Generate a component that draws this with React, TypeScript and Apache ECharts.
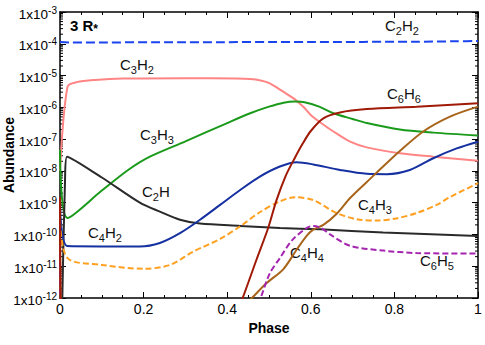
import React, { useEffect, useRef } from 'react';
import * as echarts from 'echarts';

// ---- data: [phase, abundance] ----
const C2H2 = [[0, 1.13e-4], [0.02, 1.1e-4], [0.3, 1.12e-4], [0.6, 1.14e-4], [0.85, 1.16e-4], [0.95, 1.2e-4], [1, 1.22e-4]];
const C3H2 = [[0, 1e-8], [0.018, 4.5e-6], [0.04, 6.2e-6], [0.084, 7.3e-6], [0.15, 8.1e-6], [0.3, 8.3e-6], [0.42, 8.1e-6], [0.455, 7.8e-6], [0.48, 7.0e-6], [0.502, 5.7e-6], [0.534, 3.1e-6], [0.558, 1.95e-6], [0.582, 1.05e-6], [0.6, 5.7e-7], [0.622, 3.4e-7], [0.654, 1.74e-7], [0.694, 8.3e-8], [0.734, 5.5e-8], [0.813, 3.6e-8], [0.893, 2.8e-8], [1, 2.1e-8]];
const C3H3 = [[0, 4.6e-8], [0.018, 3.3e-10], [0.1, 2.4e-9], [0.163, 1.07e-8], [0.215, 2.8e-8], [0.3, 8.5e-8], [0.4, 3.2e-7], [0.455, 6.5e-7], [0.5, 1.05e-6], [0.535, 1.4e-6], [0.562, 1.52e-6], [0.585, 1.45e-6], [0.62, 1.05e-6], [0.654, 6.5e-7], [0.7, 4.3e-7], [0.734, 3.2e-7], [0.813, 2.0e-7], [0.893, 1.6e-7], [1, 1.3e-7]];
const C2H = [[0.004, 1e-13], [0.012, 5e-9], [0.017, 2.8e-8], [0.1, 6.2e-9], [0.191, 1.0e-9], [0.239, 5.2e-10], [0.287, 2.9e-10], [0.335, 2.2e-10], [0.431, 1.86e-10], [0.526, 1.6e-10], [0.622, 1.45e-10], [0.773, 1.15e-10], [1, 9e-11]];
const C4H2 = [[0, 8e-10], [0.018, 4.3e-11], [0.1, 4.2e-11], [0.191, 4.2e-11], [0.239, 5.4e-11], [0.287, 1.1e-10], [0.335, 2.9e-10], [0.383, 8.5e-10], [0.431, 2.5e-9], [0.478, 6.6e-9], [0.526, 1.37e-8], [0.566, 1.88e-8], [0.606, 1.6e-8], [0.67, 1.07e-8], [0.734, 8.1e-9], [0.782, 7.9e-9], [0.837, 1.07e-8], [0.893, 2.5e-8], [0.949, 5.1e-8], [1, 8.3e-8]];
const C4H3 = [[0, 2.5e-10], [0.018, 1.8e-11], [0.1, 1.1e-11], [0.2, 8.3e-12], [0.263, 1.1e-11], [0.319, 2.9e-11], [0.383, 7.2e-11], [0.431, 1.8e-10], [0.478, 5.0e-10], [0.526, 1.1e-9], [0.562, 1.48e-9], [0.606, 1.2e-9], [0.662, 4.7e-10], [0.71, 3.0e-10], [0.758, 2.75e-10], [0.805, 3.2e-10], [0.853, 4.7e-10], [0.901, 8.5e-10], [0.933, 1.5e-9], [1, 4.1e-9]];
const C6H6 = [[0, 1.5e-9], [0.008, 1e-14], [0.41, 1.3e-13], [0.437, 1e-12], [0.47, 1.6e-11], [0.498, 1.6e-10], [0.518, 1.2e-9], [0.54, 7e-9], [0.562, 2.6e-8], [0.58, 7e-8], [0.6, 1.8e-7], [0.63, 4.5e-7], [0.67, 6.9e-7], [0.734, 8.8e-7], [0.853, 1.05e-6], [1, 1.35e-6]];
const BROWN = [[0, 3e-10], [0.006, 1e-14], [0.44, 5.6e-13], [0.459, 1e-12], [0.495, 3e-12], [0.534, 8e-12], [0.566, 3.3e-11], [0.59, 9e-11], [0.605, 1.4e-10], [0.63, 2e-10], [0.662, 4.5e-10], [0.694, 1.4e-9], [0.734, 4.5e-9], [0.758, 8.9e-9], [0.813, 4.2e-8], [0.869, 1.74e-7], [0.933, 5.1e-7], [1, 1.05e-6]];
const C6H5 = [[0, 5e-11], [0.005, 1e-14], [0.47, 4.7e-13], [0.48, 1e-12], [0.502, 6e-12], [0.526, 1.8e-11], [0.555, 6.5e-11], [0.59, 1.6e-10], [0.605, 1.85e-10], [0.625, 1.6e-10], [0.646, 1e-10], [0.694, 4.4e-11], [0.773, 3.1e-11], [0.853, 2.6e-11], [1, 2.5e-11]];

const X_MIN = 0, X_MAX = 1, X_INTERVAL = 0.2;
const Y_MIN = 1e-12, Y_MAX = 1e-3;
const MINOR_MANTISSAS = [2, 3, 4, 5, 6, 7, 8, 9];
const DECADES = [-12, -11, -10, -9, -8, -7, -6, -5, -4];

const FONT = '"Liberation Sans", Arial, Helvetica, sans-serif';

function chemLabel(tokens: string, x: number, glyphTop: number) {
  return {
    type: 'text',
    x,
    y: glyphTop - 6,
    silent: true,
    style: {
      text: tokens,
      verticalAlign: 'top',
      align: 'left',
      rich: {
        n: { fontSize: 15, lineHeight: 16, fontFamily: FONT, fill: '#111' },
        s: { fontSize: 11, lineHeight: 11, fontFamily: FONT, fill: '#111', padding: [11, 0, 0, 0] },
      },
    },
  };
}

export default function App() {
  const ref = useRef<HTMLDivElement>(null);
  useEffect(() => {
    if (!ref.current) return;
    const chart = echarts.init(ref.current, undefined, { renderer: 'svg' });

    const minorTicks: number[][] = [];
    DECADES.forEach((e) => MINOR_MANTISSAS.forEach((m) => minorTicks.push([0, m * Math.pow(10, e)])));

    const line = (name: string, data: number[][], color: string, dash?: number[]) => ({
      name,
      type: 'line',
      data,
      showSymbol: false,
      symbol: 'none',
      smooth: 0.3,
      clip: true,
      xAxisIndex: 0,
      yAxisIndex: 0,
      lineStyle: { color, width: 2, type: dash || 'solid' },
      emphasis: { disabled: true },
    });

    const axisLineStyle = { show: true, onZero: false, lineStyle: { color: '#000', width: 1.5 } };
    const xTick = { show: true, inside: true, length: 6, lineStyle: { color: '#000', width: 1 } };
    const xMinor = { show: true, splitNumber: 4, length: 3, lineStyle: { color: '#000', width: 1 } };

    chart.setOption({
      animation: false,
      backgroundColor: '#fff',
      grid: { left: 60, right: 7, top: 12, bottom: 47, containLabel: false, outerBoundsMode: 'none' },
      xAxis: [
        {
          type: 'value', min: X_MIN, max: X_MAX, interval: X_INTERVAL, position: 'bottom',
          axisLine: axisLineStyle, axisTick: xTick, minorTick: xMinor, splitLine: { show: false }, minorSplitLine: { show: false },
          axisLabel: { color: '#000', fontSize: 14, fontFamily: FONT, margin: 4, formatter: (v: number) => String(Math.round(v * 10) / 10) },
          name: 'Phase', nameLocation: 'middle', nameGap: 19,
          nameTextStyle: { color: '#000', fontSize: 14, fontWeight: 'bold', fontFamily: FONT },
        },
        {
          type: 'value', min: X_MIN, max: X_MAX, interval: X_INTERVAL, position: 'top',
          axisLine: axisLineStyle, axisTick: xTick, minorTick: xMinor, splitLine: { show: false },
          axisLabel: { show: false },
        },
      ],
      yAxis: [
        {
          type: 'log', logBase: 10, min: Y_MIN, max: Y_MAX, position: 'left',
          axisLine: axisLineStyle, axisTick: { show: true, inside: true, length: 6, lineStyle: { color: '#000', width: 1 } },
          splitLine: { show: false },
          axisLabel: {
            margin: 3,
            padding: [4, 0, 0, 0],
            formatter: (v: number) => `{a|1x10}{b|${Math.round(Math.log10(v))}}`,
            rich: {
              a: { fontSize: 13.5, lineHeight: 14, fontFamily: FONT, color: '#000' },
              b: { fontSize: 10, lineHeight: 10, fontFamily: FONT, color: '#000', padding: [0, 0, 8, 0] },
            },
          },
        },
        {
          type: 'log', logBase: 10, min: Y_MIN, max: Y_MAX, position: 'right',
          axisLine: axisLineStyle, axisTick: { show: true, inside: true, length: 6, lineStyle: { color: '#000', width: 1 } },
          splitLine: { show: false }, axisLabel: { show: false },
        },
      ],
      series: [
        {
          type: 'custom',
          xAxisIndex: 0,
          yAxisIndex: 0,
          data: minorTicks,
          silent: true,
          clip: false,
          renderItem: (params: any, api: any) => {
            const cs = params.coordSys;
            const y = api.coord([0, api.value(1)])[1];
            return {
              type: 'group',
              children: [
                { type: 'line', shape: { x1: cs.x, y1: y, x2: cs.x + 3, y2: y }, style: { stroke: '#000', lineWidth: 1 } },
                { type: 'line', shape: { x1: cs.x + cs.width - 3, y1: y, x2: cs.x + cs.width, y2: y }, style: { stroke: '#000', lineWidth: 1 } },
              ],
            };
          },
        },
        line('C3H2', C3H2, '#ff8585'),
        line('C3H3', C3H3, '#1a9a1a'),
        line('C2H', C2H, '#2a2a2a'),
        line('C4H2', C4H2, '#1530a0'),
        line('C4H3', C4H3, '#ffa020', [6, 3]),
        line('BROWN', BROWN, '#a8641a'),
        line('C6H5', C6H5, '#a625b0', [6, 3]),
        line('C6H6', C6H6, '#a01a08'),
        line('C2H2', C2H2, '#1a44ee', [9, 4]),
      ],
      graphic: [
        {
          type: 'text', x: 9, y: 155, rotation: Math.PI / 2, silent: true,
          style: { text: 'Abundance', align: 'center', verticalAlign: 'middle', fontSize: 14, fontWeight: 'bold', fontFamily: FONT, fill: '#000' },
        },
        {
          type: 'text', x: 70, y: 17, silent: true,
          style: {
            text: '{m|3 R}{t|*}', verticalAlign: 'top',
            rich: {
              m: { fontSize: 15, lineHeight: 16, fontWeight: 'bold', fontFamily: FONT, fill: '#000' },
              t: { fontSize: 12, lineHeight: 12, fontWeight: 'bold', fontFamily: FONT, fill: '#000', padding: [8, 0, 0, 0] },
            },
          },
        },
        chemLabel('{n|C}{s|2}{n|H}{s|2}', 385, 23),
        chemLabel('{n|C}{s|3}{n|H}{s|2}', 120, 62),
        chemLabel('{n|C}{s|6}{n|H}{s|6}', 387, 91),
        chemLabel('{n|C}{s|3}{n|H}{s|3}', 140, 132),
        chemLabel('{n|C}{s|2}{n|H}', 142, 189),
        chemLabel('{n|C}{s|4}{n|H}{s|2}', 88, 230),
        chemLabel('{n|C}{s|4}{n|H}{s|3}', 358, 202),
        chemLabel('{n|C}{s|4}{n|H}{s|4}', 290, 250),
        chemLabel('{n|C}{s|6}{n|H}{s|5}', 420, 258),
      ],
    });
    return () => chart.dispose();
  }, []);
  return <div ref={ref} style={{ position: 'fixed', left: 0, top: 0, width: 485, height: 345, background: '#fff' }} />;
}
